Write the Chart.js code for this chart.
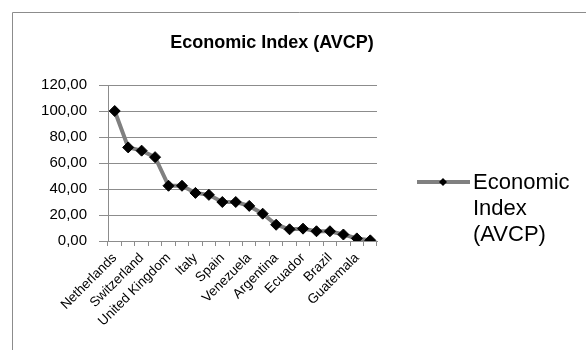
<!DOCTYPE html>
<html>
<head>
<meta charset="utf-8">
<script src="https://cdn.jsdelivr.net/npm/chart.js@4.4.1/dist/chart.umd.min.js"></script>
<style>
  html, body { margin: 0; padding: 0; background: #fff; }
  #wrap { width: 586px; height: 350px; }
</style>
</head>
<body>
<div id="wrap"><canvas id="econChart" width="586" height="350"></canvas></div>
<script>
// data (only every second country name is printed on the axis)
const countries = [
  'Netherlands', 'Germany', 'Switzerland', 'Sweden', 'United Kingdom', 'France',
  'Italy', 'Portugal', 'Spain', 'Chile', 'Venezuela', 'Mexico', 'Argentina',
  'Colombia', 'Ecuador', 'Peru', 'Brazil', 'Bolivia', 'Guatemala', 'Honduras'
];
const indexValues = [
  100, 72, 69.5, 64.5, 42.5, 42.5, 37, 35.5, 30, 30,
  27, 21, 12.5, 9, 9.5, 7.5, 7.5, 5, 2, 0.5
];
const yTickValues = [0, 20, 40, 60, 80, 100, 120];
const seriesName = 'Economic Index (AVCP)';
const chartTitle = 'Economic Index (AVCP)';

const FONT = "'Liberation Sans', Arial, sans-serif";

// frame, title and the wrapped legend on the right
const decorPlugin = {
  id: 'decor',
  afterDraw(chart) {
    const ctx = chart.ctx;
    ctx.save();

    // outer frame (runs off the right/bottom edge like the original)
    ctx.strokeStyle = '#8c8c8c';
    ctx.lineWidth = 1;
    ctx.beginPath();
    ctx.moveTo(12.5, chart.height);
    ctx.lineTo(12.5, 12.5);
    ctx.lineTo(chart.width, 12.5);
    ctx.stroke();

    // title
    ctx.fillStyle = '#000';
    ctx.font = 'bold 18px ' + FONT;
    ctx.textAlign = 'center';
    ctx.textBaseline = 'middle';
    ctx.fillText(chartTitle, 272, 43);

    // legend
    const ds = chart.data.datasets[0];
    const ly = 182;
    ctx.strokeStyle = ds.borderColor;
    ctx.lineWidth = 4;
    ctx.beginPath();
    ctx.moveTo(417, ly);
    ctx.lineTo(470, ly);
    ctx.stroke();
    ctx.fillStyle = '#000';
    ctx.beginPath();
    ctx.moveTo(443, ly - 4);
    ctx.lineTo(447, ly);
    ctx.lineTo(443, ly + 4);
    ctx.lineTo(439, ly);
    ctx.closePath();
    ctx.fill();

    ctx.font = '22px ' + FONT;
    ctx.textAlign = 'left';
    ctx.textBaseline = 'alphabetic';
    const words = ds.label.split(' ');
    const lines = [];
    let cur = '';
    words.forEach(w => {
      const test = cur ? cur + ' ' + w : w;
      if (cur && ctx.measureText(test).width > 108) {
        lines.push(cur);
        cur = w;
      } else {
        cur = test;
      }
    });
    if (cur) lines.push(cur);
    lines.forEach((t, i) => ctx.fillText(t, 473, 189 + i * 26));

    ctx.restore();
  }
};

new Chart(document.getElementById('econChart'), {
  type: 'line',
  data: {
    labels: countries,
    datasets: [{
      label: seriesName,
      data: indexValues,
      borderColor: '#808080',
      borderWidth: 4,
      tension: 0,
      pointStyle: 'rectRot',
      pointRadius: 5.5,
      pointBackgroundColor: '#000',
      pointBorderColor: '#000',
      pointBorderWidth: 1
    }]
  },
  options: {
    responsive: false,
    animation: false,
    layout: { padding: { left: 0, right: 209, top: 85, bottom: 0 } },
    plugins: {
      legend: { display: false },
      title: { display: false },
      tooltip: { enabled: false }
    },
    scales: {
      x: {
        type: 'category',
        offset: true,
        afterFit(scale) { scale.height = 109; },
        grid: {
          offset: true,
          drawOnChartArea: false,
          drawTicks: true,
          tickLength: 5,
          color: '#8c8c8c'
        },
        border: { color: '#8c8c8c', width: 1 },
        ticks: {
          autoSkip: false,
          maxRotation: 45,
          minRotation: 45,
          padding: 4,
          color: '#000',
          font: { family: FONT, size: 13.5 },
          callback(value, i) { return i % 2 === 0 ? countries[i] : ''; }
        }
      },
      y: {
        min: 0,
        max: 120,
        afterFit(scale) { scale.width = 108; },
        afterBuildTicks(scale) { scale.ticks = yTickValues.map(v => ({ value: v })); },
        grid: {
          color: '#8c8c8c',
          drawTicks: true,
          tickLength: 9
        },
        border: { color: '#8c8c8c', width: 1 },
        ticks: {
          padding: 12,
          color: '#000',
          font: { family: FONT, size: 15 },
          callback(v) { return v.toFixed(2).replace('.', ','); }
        }
      }
    }
  },
  plugins: [decorPlugin]
});
</script>
</body>
</html>
